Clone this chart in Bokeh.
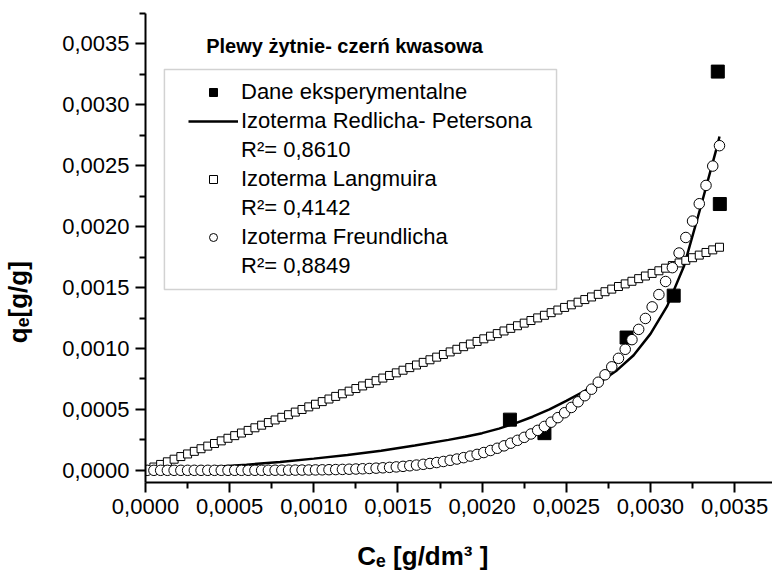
from bokeh.plotting import figure
from bokeh.models import (Range1d, FixedTicker, CustomJSTickFormatter, Legend,
                          LegendItem, Label, BoxAnnotation)
from bokeh.embed import file_html
from bokeh.resources import INLINE

FONT = "Liberation Sans"

# ---------------- data ----------------
# experimental points: Ce [g/dm3], qe [g/g]
exp_ce = [0.002165, 0.00237, 0.002858, 0.003138, 0.003412, 0.0034]
exp_qe = [0.000416, 0.000305, 0.00109, 0.001434, 0.002186, 0.003273]

# Ce of the fitted-curve markers, in units of 1e-4 g/dm3
fit_ce_e4 = [0.1, 0.5, 0.9, 1.3, 1.7, 2.1, 2.5, 2.9, 3.3, 3.7, 4.1, 4.5, 4.9, 5.3,
             5.7, 6.1, 6.5, 6.9, 7.3, 7.7, 8.1, 8.5, 8.9, 9.3, 9.7, 10.1, 10.5,
             10.9, 11.3, 11.7, 12.1, 12.5, 12.9, 13.3, 13.7, 14.1, 14.5, 14.9,
             15.3, 15.7, 16.1, 16.5, 16.9, 17.3, 17.7, 18.1, 18.5, 18.9, 19.3,
             19.7, 20.1, 20.5, 20.9, 21.3, 21.7, 22.1, 22.5, 22.9, 23.3, 23.7,
             24.1, 24.5, 24.9, 25.3, 25.7, 26.1, 26.5, 26.9, 27.3, 27.7, 28.1,
             28.5, 28.9, 29.3, 29.7, 30.1, 30.5, 30.9, 31.3, 31.7, 32.1, 32.5,
             32.9, 33.3, 33.7, 34.1]

# Langmuir isotherm markers, qe in units of 1e-6 g/g
lang_qe_e6 = [5.4, 26.9, 48.3, 69.8, 91.3, 112.8, 134.3, 155.7, 177.2, 198.7,
              220.2, 241.7, 263.1, 284.6, 306.1, 327.6, 349.1, 370.5, 392.0, 413.5,
              435.0, 456.5, 477.9, 499.4, 520.9, 542.4, 563.9, 585.3, 606.8, 628.3,
              649.8, 671.3, 692.7, 714.2, 735.7, 757.2, 778.7, 800.1, 821.6, 843.1,
              864.6, 886.1, 907.5, 929.0, 950.5, 972.0, 993.5, 1014.9, 1036.4, 1057.9,
              1079.4, 1100.9, 1122.3, 1143.8, 1165.3, 1186.8, 1208.3, 1229.7, 1251.2, 1272.7,
              1294.2, 1315.7, 1337.1, 1358.6, 1380.1, 1401.6, 1423.1, 1444.5, 1466.0, 1487.5,
              1509.0, 1530.5, 1551.9, 1573.4, 1594.9, 1616.4, 1637.9, 1659.3, 1680.8, 1702.3,
              1723.8, 1745.3, 1766.7, 1788.2, 1809.7, 1831.2]

# Freundlich isotherm markers, qe in units of 1e-6 g/g
freu_qe_e6 = [0.0, 0.0, 0.0, 0.00004, 0.0002, 0.0006, 0.0015, 0.0035, 0.007, 0.013,
              0.023, 0.039, 0.062, 0.095, 0.142, 0.206, 0.293, 0.407, 0.554, 0.743,
              0.982, 1.28, 1.65, 2.10, 2.65, 3.31, 4.09, 5.03, 6.13, 7.42,
              8.93, 10.68, 12.70, 15.02, 17.68, 20.72, 24.17, 28.07, 32.48, 37.44,
              43.01, 49.23, 56.18, 63.90, 72.47, 81.97, 92.45, 104.0, 116.7, 130.7,
              146.0, 162.7, 181.0, 200.9, 222.6, 246.2, 270.7, 298.3, 328.1, 360.3,
              395.0, 432.5, 472.8, 516.1, 562.6, 612.5, 665.9, 723.1, 784.2, 849.5,
              919.3, 993.5, 1072.7, 1156.9, 1246.6, 1341.7, 1442.8, 1550.0, 1663.6, 1783.9,
              1911.3, 2046.0, 2188.4, 2338.8, 2497.6, 2665.0]

# Redlich-Peterson isotherm (line)
rp_ce_e4 = [0, 2, 4, 6, 8, 10, 12, 14, 16, 18, 19, 20, 21, 22, 23, 24, 25, 26, 27,
            28, 29, 30, 31, 32, 33, 34, 34.1]
rp_qe_e6 = [0, 12, 27, 46, 69, 96, 126, 161, 203, 250, 275, 305, 342, 388, 440, 500,
            570, 645, 725, 820, 945, 1120, 1350, 1680, 2170, 2680, 2740]

legend_labels = ["Dane eksperymentalne", "Izoterma Redlicha- Petersona", "R\u00b2= 0,8610",
                 "Izoterma Langmuira", "R\u00b2= 0,4142", "Izoterma Freundlicha", "R\u00b2= 0,8849"]
title_text = "Plewy \u017cytnie- czer\u0144 kwasowa"
x_title = "C\u2091 [g/dm\u00b3 ]"
y_title = "q\u2091[g/g]"

x_ticks = [0.0, 0.0005, 0.0010, 0.0015, 0.0020, 0.0025, 0.0030, 0.0035]
x_tick_labels = ["0,0000", "0,0005", "0,0010", "0,0015", "0,0020", "0,0025", "0,0030", "0,0035"]
x_minor = [0.00025, 0.00075, 0.00125, 0.00175, 0.00225, 0.00275, 0.00325]
y_ticks = [0.0, 0.0005, 0.0010, 0.0015, 0.0020, 0.0025, 0.0030, 0.0035]
y_tick_labels = ["0,0000", "0,0005", "0,0010", "0,0015", "0,0020", "0,0025", "0,0030", "0,0035"]
y_minor = [0.00025, 0.00075, 0.00125, 0.00175, 0.00225, 0.00275, 0.00325, 0.00375]

fit_ce = [v * 1e-4 for v in fit_ce_e4]
lang_qe = [v * 1e-6 for v in lang_qe_e6]
freu_qe = [v * 1e-6 for v in freu_qe_e6]
rp_ce = [v * 1e-4 for v in rp_ce_e4]
rp_qe = [v * 1e-6 for v in rp_qe_e6]

# ---------------- figure ----------------
X0, X1 = 0.0, 0.003725
Y0, Y1 = -0.0001, 0.00375
p = figure(width=772, height=576, output_backend="svg", toolbar_location=None,
           x_range=Range1d(X0, X1), y_range=Range1d(Y0, Y1),
           min_border_left=142, min_border_right=0, min_border_top=13, min_border_bottom=94)
p.outline_line_color = None
p.xgrid.visible = False
p.ygrid.visible = False
p.background_fill_color = "white"
p.border_fill_color = "white"

fmt_code = """
let best = 0;
for (let i = 0; i < vals.length; i++) {
  if (Math.abs(vals[i] - tick) < Math.abs(vals[best] - tick)) best = i;
}
return labs[best];
"""
p.xaxis.ticker = FixedTicker(ticks=x_ticks, minor_ticks=x_minor)
p.yaxis.ticker = FixedTicker(ticks=y_ticks, minor_ticks=y_minor)
p.xaxis.formatter = CustomJSTickFormatter(args=dict(vals=x_ticks, labs=x_tick_labels), code=fmt_code)
p.yaxis.formatter = CustomJSTickFormatter(args=dict(vals=y_ticks, labs=y_tick_labels), code=fmt_code)
for ax in (p.xaxis[0], p.yaxis[0]):
    ax.axis_line_width = 2
    ax.axis_line_color = "black"
    ax.major_tick_line_width = 2
    ax.minor_tick_line_width = 2
    ax.major_tick_line_color = "black"
    ax.minor_tick_line_color = "black"
    ax.major_tick_in = 0
    ax.major_tick_out = 10
    ax.minor_tick_in = 0
    ax.minor_tick_out = 6
    ax.major_label_text_font = FONT
    ax.major_label_text_font_size = "22px"
    ax.major_label_text_color = "black"
    ax.major_label_standoff = 6
    ax.axis_label_text_font = FONT
    ax.axis_label_text_font_style = "bold"
    ax.axis_label_text_font_size = "26px"
    ax.axis_label_text_color = "black"

NB = "\u00a0"
p.xaxis.axis_label = x_title + NB * 10
p.xaxis.axis_label_standoff = 24
p.yaxis.axis_label = y_title + NB * 15
p.yaxis.axis_label_standoff = 26

# ---------------- glyphs ----------------
r_exp = p.scatter(exp_ce, exp_qe, marker="square", size=13,
                  fill_color="black", line_color="black")
r_rp = p.line(rp_ce, rp_qe, line_color="black", line_width=2.5)
r_lang = p.scatter(fit_ce, lang_qe, marker="square", size=8,
                   fill_color="white", line_color="black", line_width=1)
r_freu = p.scatter(fit_ce, freu_qe, marker="circle", size=10.5,
                   fill_color="white", line_color="black", line_width=1)
r_blank = p.scatter([], [], marker="square", size=1, fill_alpha=0, line_alpha=0)

# ---------------- legend ----------------
def dx(px):   # image pixel -> data x
    return X0 + (px - 142) * (X1 - X0) / 630.0

def dy(py):   # image pixel -> data y
    return Y0 + (482 - py) * (Y1 - Y0) / 469.0

box = BoxAnnotation(left=dx(161), right=dx(555), top=dy(69), bottom=dy(289),
                    fill_alpha=0, line_color="#6a6a6a", line_width=1.5)
p.add_layout(box)

renderers = [r_exp, r_rp, r_blank, r_lang, r_blank, r_freu, r_blank]
legend = Legend(items=[LegendItem(label=t, renderers=[r]) for t, r in zip(legend_labels, renderers)],
                location=(43, 202), orientation="vertical",
                border_line_color=None, background_fill_alpha=0,
                padding=8, margin=0, spacing=0,
                glyph_width=50, glyph_height=20, label_height=29, label_standoff=3,
                label_text_font=FONT, label_text_font_size="22px", label_text_color="black")
p.add_layout(legend)

# ---------------- title text ----------------
p.add_layout(Label(x=dx(203), y=dy(45), text=title_text, text_font=FONT,
                   text_font_style="bold", text_font_size="20px", text_color="black",
                   text_baseline="middle", text_align="left"))

open("out.html", "w").write(file_html(p, INLINE))
